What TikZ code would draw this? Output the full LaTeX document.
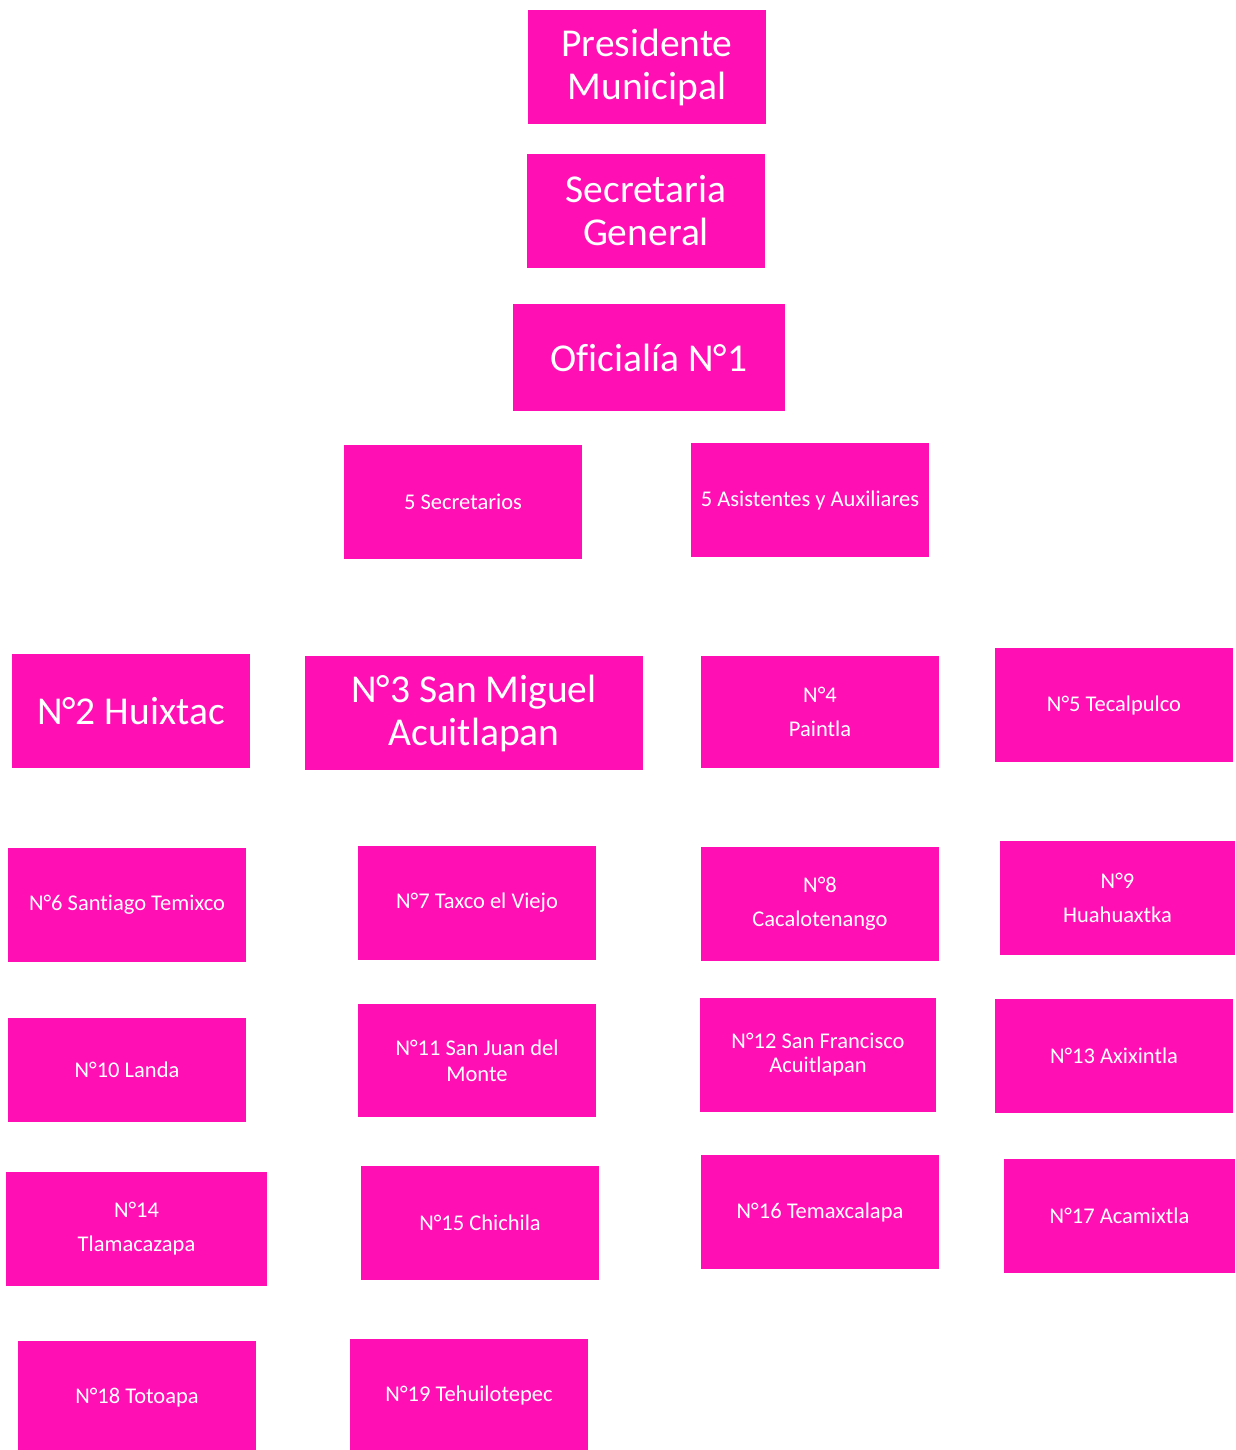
\documentclass[tikz,border=0pt]{standalone}
\usepackage{fontspec}
\setmainfont[Ligatures=NoCommon]{Carlito}
\definecolor{mag}{HTML}{FF0FB4}
\begin{document}
\begin{tikzpicture}[x=1pt,y=-1pt,
  box/.style={fill=mag,draw=none,text=white,inner sep=0pt,align=center,minimum width=238pt,minimum height=114pt},
  big/.style={font=\fontsize{39.5}{43}\selectfont},
  small/.style={font=\fontsize{22.5}{26}\selectfont},
  wide/.style={font=\fontsize{22.5}{34}\selectfont}]
\fill[white] (0,0) rectangle (1235,1450);
\clip (0,0) rectangle (1235,1450);
\node[box,big] (pm) at (647,67) {Presidente\\Municipal};
\node[box,big] (sg) at (646,211) {Secretaria\\General};
\node[box,big,minimum width=272pt,minimum height=107pt] (of) at (649,357.5) {Oficialía N°1};
\node[box,small] (sec) at (463,502) {5 Secretarios};
\node[box,small] (asi) at (810,500) {5 Asistentes y Auxiliares};
\node[box,big] (n2) at (131,711) {N°2 Huixtac};
\node[box,big,minimum width=338pt] (n3) at (474,713) {N°3 San Miguel\\Acuitlapan};
\node[box,wide,minimum height=112pt] (n4) at (820,712) {N°4\\Paintla};
\node[box,small] (n5) at (1114,705) {N°5 Tecalpulco};
\node[box,small] (n6) at (127,905) {N°6 Santiago Temixco};
\node[box,small] (n7) at (477,903) {N°7 Taxco el Viejo};
\node[box,wide] (n8) at (820,904) {N°8\\Cacalotenango};
\node[box,wide,minimum width=235pt] (n9) at (1117.5,898) {N°9\\Huahuaxtka};
\node[box,small,minimum height=104pt] (n10) at (127,1070) {N°10 Landa};
\node[box,small,minimum height=113pt] (n11) at (477,1060.5) {N°11 San Juan del\\Monte};
\node[box,font=\fontsize{22.5}{24}\selectfont,minimum width=236pt] (n12) at (818,1055) {N°12 San Francisco\\Acuitlapan};
\node[box,small] (n13) at (1114,1056) {N°13 Axixintla};
\node[box,wide,minimum width=261pt] (n14) at (136.5,1229) {N°14\\Tlamacazapa};
\node[box,small] (n15) at (480,1223) {N°15 Chichila};
\node[box,small] (n16) at (820,1212) {N°16 Temaxcalapa};
\node[box,small,minimum width=231pt] (n17) at (1119.5,1216) {N°17 Acamixtla};
\node[box,small] (n18) at (137,1398) {N°18 Totoapa};
\node[box,small,minimum height=112pt] (n19) at (469,1395) {N°19 Tehuilotepec};
\end{tikzpicture}
\end{document}
